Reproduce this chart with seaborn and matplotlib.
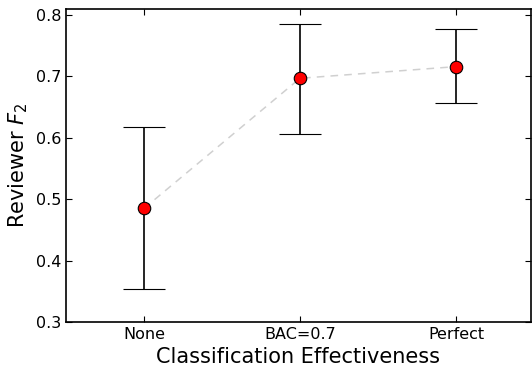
import numpy as np
import pandas as pd
import matplotlib
matplotlib.use('Agg')
import matplotlib.pyplot as plt
import seaborn as sns

# data
categories = ['None', 'BAC=0.7', 'Perfect']
means = [0.485, 0.697, 0.716]
lower = [0.354, 0.607, 0.656]
upper = [0.618, 0.786, 0.777]

df = pd.DataFrame({'cat': categories, 'pos': np.arange(len(categories)), 'mean': means})
err = [np.array(means) - np.array(lower), np.array(upper) - np.array(means)]

sns.set_style('ticks')
plt.rcParams['font.family'] = ['DejaVu Sans']
plt.rcParams['xtick.direction'] = 'in'
plt.rcParams['ytick.direction'] = 'in'
plt.rcParams['text.color'] = 'black'
plt.rcParams['axes.labelcolor'] = 'black'
plt.rcParams['xtick.color'] = 'black'
plt.rcParams['ytick.color'] = 'black'

fig = plt.figure(figsize=(5.32, 3.71), dpi=100)
ax = fig.add_axes([0.124, 0.132, 0.874, 0.844])

# dashed connecting line
sns.lineplot(data=df, x='pos', y='mean', ax=ax, color='#d0d0d0', linewidth=1.1,
             linestyle=(0, (5, 4)), zorder=1)

ax.errorbar(df['pos'], df['mean'], yerr=err, fmt='o', color='black', ecolor='black',
            elinewidth=1.2, capsize=15, capthick=1.5, markersize=9,
            markerfacecolor='red', markeredgecolor='black', markeredgewidth=0.8, zorder=3)

ax.set_xlim(-0.5, 2.48)
ax.set_ylim(0.3, 0.81)
ax.set_xticks(df['pos'])
ax.set_xticklabels(categories)
ax.set_yticks([0.3, 0.4, 0.5, 0.6, 0.7, 0.8])
ax.tick_params(axis='both', labelsize=11.5, top=True, right=True, length=4, width=0.8)
for s in ax.spines.values():
    s.set_linewidth(1.2)
    s.set_color('black')

ax.set_xlabel('Classification Effectiveness', fontsize=15)
ax.set_ylabel('Reviewer $F_2$', fontsize=15)

fig.savefig('out.png', dpi=100)
